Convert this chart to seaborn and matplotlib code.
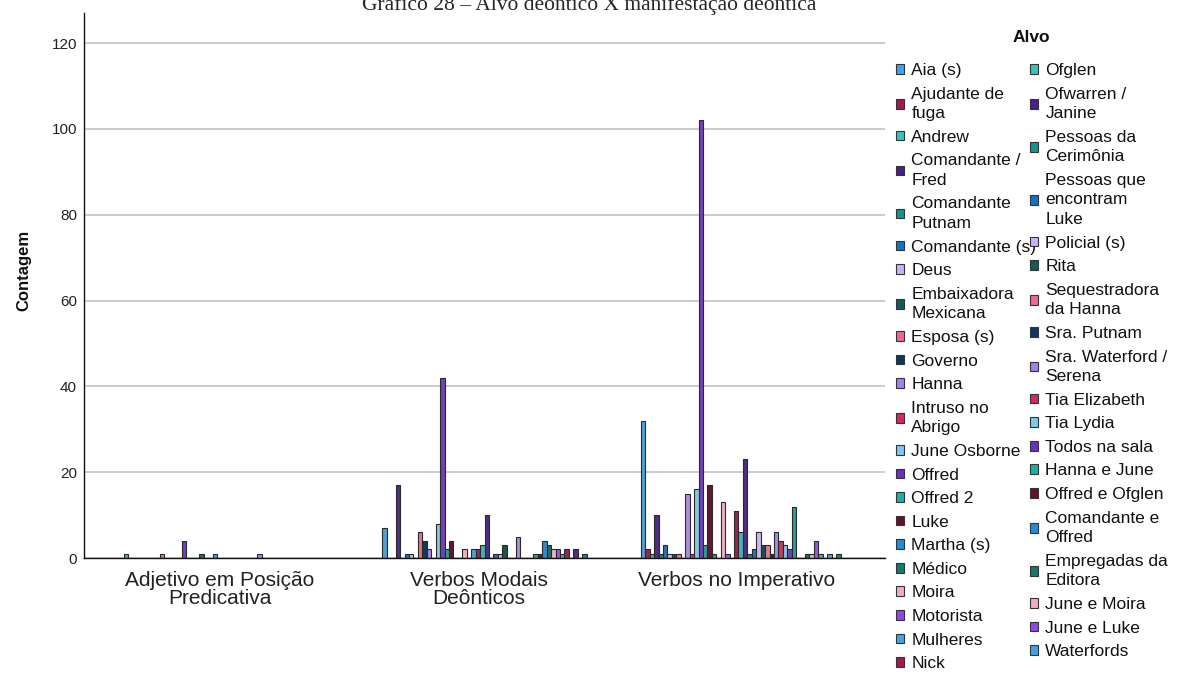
import matplotlib
matplotlib.use("Agg")
import matplotlib.pyplot as plt
from matplotlib.patches import Patch
from matplotlib.transforms import ScaledTranslation
import pandas as pd
import seaborn as sns

# ---------------- data ----------------
categorias = ["Adjetivo em Posição\nPredicativa", "Verbos Modais\nDeônticos", "Verbos no Imperativo"]

alvos_legenda_esq = [
    "Aia (s)", "Ajudante de\nfuga", "Andrew", "Comandante /\nFred", "Comandante\nPutnam",
    "Comandante (s)", "Deus", "Embaixadora\nMexicana", "Esposa (s)", "Governo", "Hanna",
    "Intruso no\nAbrigo", "June Osborne", "Offred", "Offred 2", "Luke", "Martha (s)",
    "Médico", "Moira", "Motorista", "Mulheres", "Nick",
]
alvos_legenda_dir = [
    "Ofglen", "Ofwarren /\nJanine", "Pessoas da\nCerimônia", "Pessoas que\nencontram\nLuke",
    "Policial (s)", "Rita", "Sequestradora\nda Hanna", "Sra. Putnam", "Sra. Waterford /\nSerena",
    "Tia Elizabeth", "Tia Lydia", "Todos na sala", "Hanna e June", "Offred e Ofglen",
    "Comandante e\nOffred", "Empregadas da\nEditora", "June e Moira", "June e Luke", "Waterfords",
]
# series whose legend entries fall outside the visible picture
alvos_ocultos = ["Alvo 42", "Alvo 43", "Alvo 44", "Alvo 45", "Alvo 46"]
alvos = alvos_legenda_esq + alvos_legenda_dir + alvos_ocultos

adjetivo = [1, 0, 0, 0, 0, 0, 0, 0, 1, 0,
            0, 0, 0, 4, 0, 0, 0, 1, 0, 0,
            1, 0, 0, 0, 0, 0, 0, 0, 0, 0,
            1, 0, 0, 0, 0, 0, 0, 0, 0, 0,
            0, 0, 0, 0, 0, 0]
modais = [7, 0, 0, 17, 0, 1, 1, 0, 6, 4,
          2, 0, 8, 42, 2, 4, 0, 0, 2, 0,
          2, 2, 3, 10, 0, 1, 1, 3, 0, 0,
          5, 0, 0, 0, 1, 1, 4, 3, 2, 2,
          1, 2, 0, 2, 0, 1]
imperativo = [32, 2, 1, 10, 1, 3, 1, 1, 1, 0,
              15, 1, 16, 102, 3, 17, 1, 0, 13, 1,
              0, 11, 6, 23, 1, 2, 6, 3, 3, 1,
              6, 4, 3, 2, 12, 0, 0, 1, 1, 4,
              1, 0, 1, 0, 1, 0]

paleta_base = [
    "#3ba5ea", "#a3184f", "#33c6c0", "#4b1f90", "#10978c",
    "#1472c6", "#cbb0f5", "#0c5e5a", "#f2678d", "#0c3668",
    "#a57ef0", "#d3295b", "#7ccaf3", "#6c30c8", "#14b3a9",
    "#6b0d2e", "#1c8fe3", "#14796e", "#f6aac0", "#9047f2",
]

# ---------------- frame ----------------
rows = []
for cat, vals in zip(categorias, [adjetivo, modais, imperativo]):
    for a, v in zip(alvos, vals):
        if v > 0:
            rows.append({"Categoria": cat, "Alvo": a, "Contagem": v})
df = pd.DataFrame(rows)
cores = {a: paleta_base[i % len(paleta_base)] for i, a in enumerate(alvos)}

# ---------------- plot ----------------
sns.set_theme(style="white")
plt.rcParams["font.family"] = ["Liberation Sans", "DejaVu Sans"]

W, H = 1178, 675
fig = plt.figure(figsize=(W / 100, H / 100), dpi=100)
ax = fig.add_axes([84 / W, (H - 558) / H, (885 - 84) / W, (558 - 13) / H])

sns.barplot(data=df, x="Categoria", y="Contagem", hue="Alvo", order=categorias,
            hue_order=alvos, palette=cores, width=0.79, errorbar=None,
            edgecolor="#2a2a2a", linewidth=0.8, legend=False, ax=ax)

ax.set_xlim(-0.55, 2.55)
ax.set_ylim(0, 127)
ax.set_yticks(range(0, 121, 20))
ax.yaxis.grid(True, color="#c4c4c4", linewidth=1.2)
ax.xaxis.grid(False)
ax.set_axisbelow(True)
for s in ["top", "right"]:
    ax.spines[s].set_visible(False)
for s in ["left", "bottom"]:
    ax.spines[s].set_color("#111111")
    ax.spines[s].set_linewidth(1.0)
ax.tick_params(axis="y", length=0, pad=5, labelsize=11, labelcolor="#222222")
ax.tick_params(axis="x", length=0, pad=9, labelsize=15, labelcolor="#222222")
shift = ScaledTranslation(-6 / 100, 0, fig.dpi_scale_trans)
for t in ax.get_xticklabels():
    t.set_linespacing(0.95)
    t.set_transform(t.get_transform() + shift)
ax.set_xlabel("")
ax.set_ylabel("Contagem", fontsize=12, fontweight="bold", color="#111111")
ax.yaxis.set_label_coords(-0.066, 0.527)

# title (cut at the top edge as in the reference)
fig.text(0.5, 1 - 10 / H, "Gráfico 28 – Alvo deôntico X manifestação deôntica",
         ha="center", va="baseline", fontsize=15.5, family="Liberation Serif")

# legend
fig.text(1031 / W, 1 - 38 / H, "Alvo", ha="center", va="center",
         fontsize=12.5, fontweight="bold", color="#111111")

def handles(names, offset):
    return [Patch(facecolor=cores[alvos[offset + i]], edgecolor="#333333", linewidth=0.8)
            for i in range(len(names))]

kw = dict(frameon=False, fontsize=12.5, handlelength=0.48, handleheight=0.48,
          handletextpad=0.4, labelspacing=0.495, borderpad=0, borderaxespad=0,
          loc="upper left")
leg1 = fig.legend(handles(alvos_legenda_esq, 0), alvos_legenda_esq,
                  bbox_to_anchor=(896 / W, 1 - 63 / H), **kw)
leg2 = fig.legend(handles(alvos_legenda_dir, len(alvos_legenda_esq)), alvos_legenda_dir,
                  bbox_to_anchor=(1030 / W, 1 - 63 / H), **kw)
for lg in (leg1, leg2):
    for t in lg.get_texts():
        t.set_linespacing(1.38)
        t.set_color("#111111")

fig.savefig("out.png", dpi=100)
